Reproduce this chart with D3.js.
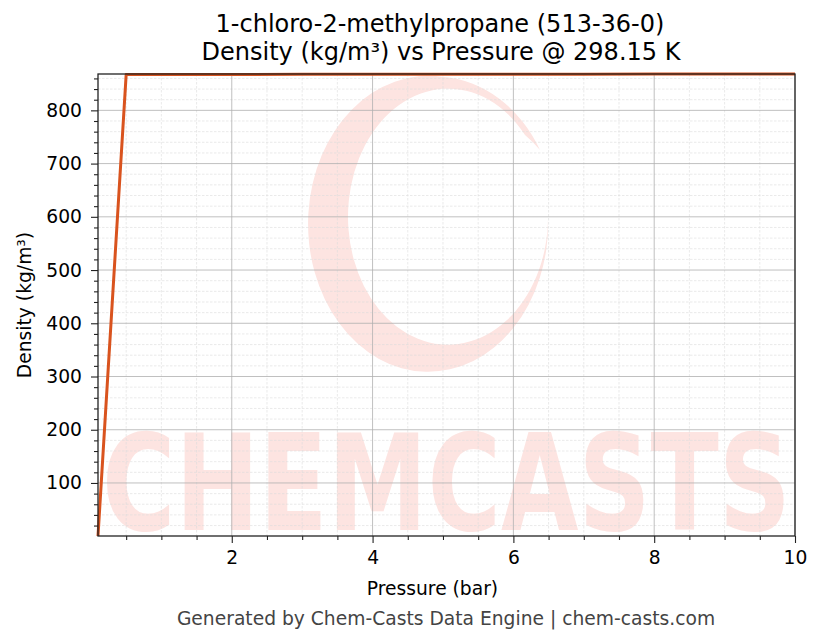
<!DOCTYPE html>
<html>
<head>
<meta charset="utf-8">
<title>Density vs Pressure</title>
<script src="https://d3js.org/d3.v7.min.js"></script>
<style>
  body { margin: 0; background: #fff; }
  svg text { font-family: "DejaVu Sans", sans-serif; fill: #000; }
  .tick text { font-size: 18.7px; font-family: "DejaVu Sans", sans-serif; }
  .grid-major line { stroke: #b0b0b0; stroke-width: 0.8; }
  .grid-minor line { stroke: #dcdcdc; stroke-width: 0.6; stroke-dasharray: 2.5,1.5; }
</style>
</head>
<body>
<div id="chart"></div>
<script>
// data
var pressure = [0.1, 0.5, 1, 1.5, 2, 3, 4, 5, 6, 7, 8, 9, 10];
var density  = [0.37, 867.2, 867.3, 867.4, 867.5, 867.6, 867.7, 867.8, 867.9, 868.0, 868.1, 868.2, 868.3];
var xTicks = [2, 4, 6, 8, 10];
var yTicks = [100, 200, 300, 400, 500, 600, 700, 800];
var xMinorTicks = [0.5, 1, 1.5, 2.5, 3, 3.5, 4.5, 5, 5.5, 6.5, 7, 7.5, 8.5, 9, 9.5];
var yMinorTicks = d3.range(20, 868, 20).filter(function(d) { return d % 100 !== 0; });

var W = 823, H = 644;
var m = {left: 98, right: 28, top: 74, bottom: 108};
var w = W - m.left - m.right, h = H - m.top - m.bottom;

var svg = d3.select("#chart").append("svg")
    .attr("width", W).attr("height", H);

var x = d3.scaleLinear().domain([d3.min(pressure), d3.max(pressure)]).range([0, w]);
var y = d3.scaleLinear().domain([d3.min(density), d3.max(density)]).range([h, 0]);

var g = svg.append("g").attr("transform", "translate(" + m.left + "," + m.top + ")");

g.append("clipPath").attr("id", "plotclip")
  .append("rect").attr("width", w).attr("height", h);

// watermark
var wm = g.append("g").attr("clip-path", "url(#plotclip)");
var cx = 345, cy = 151;
var crescent = "M" + (cx) + "," + (cy - 148) +
  " A120,148 0 1,0 " + (cx + 105) + "," + (cy - 6) +
  " A100,128 0 1,1 " + (cx + 82) + "," + (cy - 90) +
  " A118,146 0 0,1 " + (cx + 97) + "," + (cy - 75) +
  " A120,148 0 0,0 " + cx + "," + (cy - 148) + "Z";
wm.append("path").attr("d", crescent).attr("fill", "#fde4e1");
wm.append("text")
  .attr("x", 4).attr("y", h - 6)
  .attr("textLength", w - 8).attr("lengthAdjust", "spacingAndGlyphs")
  .style("font-size", "134px").style("font-weight", "bold")
  .style("fill", "#fde4e1")
  .text("CHEMCASTS");

// minor grid
g.append("g").attr("class", "grid-minor")
  .selectAll("line").data(xMinorTicks)
  .join("line")
  .attr("x1", function(d) { return x(d); }).attr("x2", function(d) { return x(d); })
  .attr("y1", 0).attr("y2", h);
g.append("g").attr("class", "grid-minor")
  .selectAll("line").data(yMinorTicks)
  .join("line")
  .attr("y1", function(d) { return y(d); }).attr("y2", function(d) { return y(d); })
  .attr("x1", 0).attr("x2", w);

// major grid
g.append("g").attr("class", "grid-major")
  .selectAll("line").data(xTicks)
  .join("line")
  .attr("x1", function(d) { return x(d); }).attr("x2", function(d) { return x(d); })
  .attr("y1", 0).attr("y2", h);
g.append("g").attr("class", "grid-major")
  .selectAll("line").data(yTicks)
  .join("line")
  .attr("y1", function(d) { return y(d); }).attr("y2", function(d) { return y(d); })
  .attr("x1", 0).attr("x2", w);

// line
var line = d3.line()
  .x(function(d, i) { return x(pressure[i]); })
  .y(function(d) { return y(d); });
g.append("path").datum(density)
  .attr("d", line)
  .attr("fill", "none")
  .attr("stroke", "#d9531e")
  .attr("stroke-width", 3)
  .attr("stroke-linejoin", "round");

// axes
var xAxis = d3.axisBottom(x).tickValues(xTicks).tickSize(7).tickPadding(8).tickFormat(d3.format("d"));
var yAxis = d3.axisLeft(y).tickValues(yTicks).tickSize(7).tickPadding(9).tickFormat(d3.format("d"));
var xMinor = d3.axisBottom(x).tickValues(xMinorTicks).tickSize(4).tickFormat("");
var yMinor = d3.axisLeft(y).tickValues(yMinorTicks).tickSize(4).tickFormat("");

g.append("g").attr("transform", "translate(0," + h + ")").call(xAxis);
g.append("g").call(yAxis);
g.append("g").attr("class", "minor").attr("transform", "translate(0," + h + ")").call(xMinor);
g.append("g").attr("class", "minor").call(yMinor);

g.selectAll(".minor text").remove();
g.selectAll(".domain").remove();
g.selectAll(".tick line").attr("stroke", "#222").attr("stroke-width", 1.1);

// frame
g.append("rect").attr("width", w).attr("height", h)
  .attr("fill", "none").attr("stroke", "#222").attr("stroke-width", 1.3);

// titles
svg.append("text").attr("x", 440).attr("y", 32)
  .attr("text-anchor", "middle").style("font-size", "24px")
  .text("1-chloro-2-methylpropane (513-36-0)");
svg.append("text").attr("x", 441).attr("y", 60)
  .attr("text-anchor", "middle").style("font-size", "24px")
  .text("Density (kg/m³) vs Pressure @ 298.15 K");

svg.append("text").attr("x", m.left + w / 2 - 14).attr("y", 595)
  .attr("text-anchor", "middle").style("font-size", "18.7px")
  .text("Pressure (bar)");

svg.append("text")
  .attr("transform", "translate(31," + (m.top + h / 2) + ") rotate(-90)")
  .attr("text-anchor", "middle").style("font-size", "18.7px")
  .text("Density (kg/m³)");

svg.append("text").attr("x", 446).attr("y", 625)
  .attr("text-anchor", "middle").style("font-size", "18.7px").style("fill", "#444")
  .text("Generated by Chem-Casts Data Engine | chem-casts.com");
</script>
</body>
</html>
